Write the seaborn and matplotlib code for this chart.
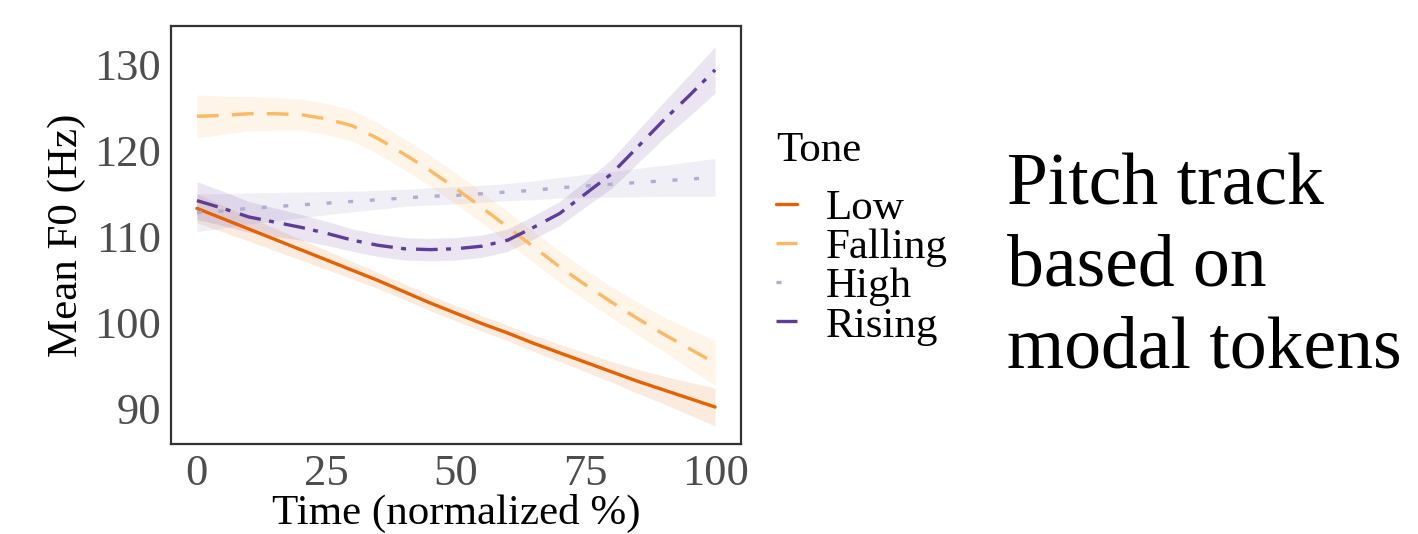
import numpy as np
import pandas as pd
import seaborn as sns
import matplotlib.pyplot as plt

sns.set_style('white')
plt.rcParams['font.family'] = ['Liberation Serif', 'DejaVu Serif']
plt.rcParams['text.color'] = 'black'

# normalized time points (%)
time = [0, 5, 10, 15, 20, 25, 30, 35, 40, 45, 50, 55, 60, 65, 70, 75, 80, 85, 90, 95, 100]
tones = ['Low', 'Falling', 'High', 'Rising']

# smoothed mean F0 (Hz) per tone
low_f0 = [113.3, 112.1, 110.9, 109.7, 108.5, 107.3, 106.1, 104.9, 103.6, 102.3, 101.1,
          99.9, 98.8, 97.6, 96.5, 95.4, 94.3, 93.2, 92.2, 91.2, 90.2]
falling_f0 = [124.0, 124.1, 124.3, 124.3, 124.2, 123.7, 122.9, 121.4, 119.6, 117.7, 115.6,
              113.4, 111.1, 108.8, 106.5, 104.4, 102.4, 100.5, 98.7, 97.0, 95.3]
high_f0 = [112.8, 113.0, 113.3, 113.5, 113.7, 113.9, 114.1, 114.3, 114.5, 114.7, 114.8,
           115.0, 115.2, 115.4, 115.7, 115.9, 116.1, 116.3, 116.5, 116.7, 116.9]
rising_f0 = [114.2, 113.3, 112.3, 111.7, 111.1, 110.4, 109.6, 109.0, 108.6, 108.5, 108.6,
             108.9, 109.6, 111.1, 112.7, 115.0, 117.3, 120.4, 123.5, 126.4, 129.4]

# half-width of the confidence band (Hz)
low_ci = [1.7, 1.55, 1.4, 1.3, 1.2, 1.1, 1.0, 0.95, 0.9, 0.9, 0.9,
          0.9, 0.9, 0.95, 1.0, 1.1, 1.2, 1.4, 1.6, 1.9, 2.2]
falling_ci = [2.5, 2.2, 2.0, 1.9, 1.8, 1.8, 1.8, 1.8, 1.8, 1.8, 1.8,
              1.8, 1.8, 1.8, 1.8, 1.8, 1.8, 1.9, 2.0, 2.3, 2.6]
high_ci = [2.2, 2.0, 1.8, 1.65, 1.5, 1.35, 1.2, 1.1, 1.0, 1.0, 1.0,
           1.0, 1.0, 1.1, 1.2, 1.35, 1.5, 1.65, 1.8, 2.0, 2.2]
rising_ci = [2.2, 2.0, 1.8, 1.65, 1.5, 1.4, 1.3, 1.3, 1.3, 1.3, 1.3,
             1.3, 1.3, 1.35, 1.4, 1.5, 1.7, 1.9, 2.1, 2.4, 2.7]

f0s = [low_f0, falling_f0, high_f0, rising_f0]
cis = [low_ci, falling_ci, high_ci, rising_ci]

colors = {'Low': '#E66101', 'Falling': '#FDB863', 'High': '#B2ABD2', 'Rising': '#5E3C99'}
dashes = {'Low': '', 'Falling': (6.5, 4), 'High': (1.5, 5), 'Rising': (6.5, 2.5, 1.5, 3)}
band_alpha = {'Low': 0.13, 'Falling': 0.15, 'High': 0.18, 'Rising': 0.13}

df = pd.concat([pd.DataFrame({'time': time, 'f0': f, 'lo': np.array(f) - np.array(c),
                              'hi': np.array(f) + np.array(c), 'Tone': t})
                for t, f, c in zip(tones, f0s, cis)], ignore_index=True)

fig = plt.figure(figsize=(14.18, 5.34), dpi=100)
ax = fig.add_axes([171 / 1418, 1 - 444 / 534, 570 / 1418, 418 / 534])

for t in tones:
    d = df[df['Tone'] == t]
    ax.fill_between(d['time'], d['lo'], d['hi'], color=colors[t], alpha=band_alpha[t], lw=0)

sns.lineplot(data=df, x='time', y='f0', hue='Tone', style='Tone', hue_order=tones, style_order=tones,
             palette=colors, dashes=dashes, lw=2.4, ax=ax)

ax.set_xlim(-5, 105)
ax.set_ylim(85.9, 134.5)
ax.set_xticks([0, 25, 50, 75, 100])
ax.set_yticks([90, 100, 110, 120, 130])
ax.tick_params(axis='both', length=5, width=1.3, color='#333333', labelsize=32, labelcolor='#4D4D4D', pad=2)
for s in ax.spines.values():
    s.set_color('#333333')
    s.set_linewidth(1.6)
ax.set_xlabel('Time (normalized %)', fontsize=31, color='black', labelpad=0)
ax.set_ylabel('Mean F0 (Hz)', fontsize=31, color='black', labelpad=6)

h, l = ax.get_legend_handles_labels()
leg = ax.legend(h, l, title='Tone', loc='upper left', bbox_to_anchor=(1.031, 0.79), frameon=False,
                fontsize=31, title_fontsize=31, handlelength=0.5, handletextpad=0.65,
                labelspacing=0.0, borderaxespad=0)
leg._legend_box.align = 'left'
leg._legend_box.sep = 14

fig.text(1007 / 1418, 1 - 268 / 534, 'Pitch track\nbased on\nmodal tokens', fontsize=53,
         va='center', ha='left', linespacing=1.27)

# headings of the neighbouring panels, cut off at the top edge
for word, x in [('Modal (a)', 373), ('Falling (b)', 683), ('Rising (c)', 1022), ('Rising (d)', 1367)]:
    fig.text(x / 1418, 1 + 16.5 / 534, word, fontsize=56, ha='right', va='baseline')

fig.savefig('out.png', dpi=100)
